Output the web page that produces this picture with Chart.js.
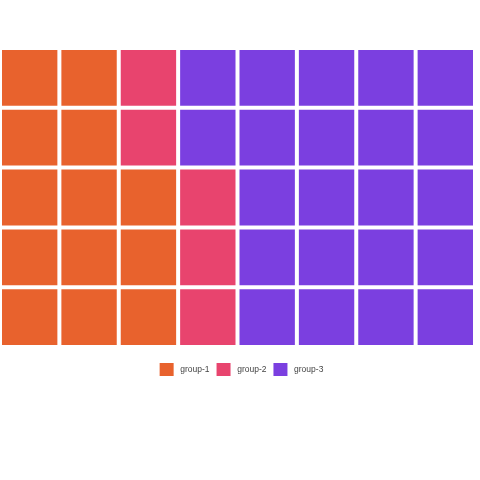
<!DOCTYPE html>
<html>
<head>
  <meta charset="utf-8" />
  <title>Waffle chart</title>
  <script src="https://cdn.jsdelivr.net/npm/chart.js"></script>
  <style>
    body { margin: 0; background: #fff; }
    #wrap { width: 480px; height: 480px; }
  </style>
</head>
<body>
  <div id="wrap"><canvas id="waffle"></canvas></div>
  <script>
    // waffle data: squares per group, filled column by column from the bottom
    const groups = ['group-1', 'group-2', 'group-3'];
    const counts = [13, 5, 22];
    const colors = ['#E8622D', '#E8446E', '#7B3FE0'];
    const columns = ['1', '2', '3', '4', '5', '6', '7', '8'];
    const nRows = 5;

    // one floating bar per square
    let cell = 0;
    const datasets = groups.map((g, gi) => {
      const pts = [];
      for (let k = 0; k < counts[gi]; k++) {
        const col = Math.floor(cell / nRows);
        const row = cell % nRows;
        pts.push({ x: columns[col], y: [row, row + 1] });
        cell++;
      }
      return {
        label: g,
        data: pts,
        backgroundColor: colors[gi],
        borderColor: '#ffffff',
        borderWidth: 2,
        borderSkipped: false,
        inflateAmount: 0,
        grouped: false,
        barPercentage: 1,
        categoryPercentage: 1
      };
    });

    // nudge the legend a little right, it is centred on the whole page there
    const legendNudge = {
      id: 'legendNudge',
      afterLayout(chart) {
        chart.legend.left += 4;
        chart.legend.right += 4;
      }
    };

    new Chart(document.getElementById('waffle'), {
      type: 'bar',
      data: { labels: columns, datasets: datasets },
      plugins: [legendNudge],
      options: {
        responsive: true,
        maintainAspectRatio: false,
        animation: false,
        layout: { padding: { top: 48, right: 5, left: 0, bottom: 94 } },
        scales: {
          x: { display: false },
          y: { display: false, min: 0, max: nRows }
        },
        plugins: {
          tooltip: { enabled: false },
          legend: {
            position: 'bottom',
            // empty title just adds space between squares and legend
            title: { display: true, text: '', padding: 0, font: { size: 7.5 } },
            labels: {
              boxWidth: 14,
              boxHeight: 13,
              padding: 7,
              color: '#444',
              font: { family: 'Liberation Sans', size: 8.5 },
              generateLabels: (chart) =>
                Chart.defaults.plugins.legend.labels.generateLabels(chart)
                  .map(item => ({ ...item, text: ' ' + item.text, strokeStyle: 'rgba(0,0,0,0)', lineWidth: 0 }))
            }
          }
        }
      }
    });
  </script>
</body>
</html>
